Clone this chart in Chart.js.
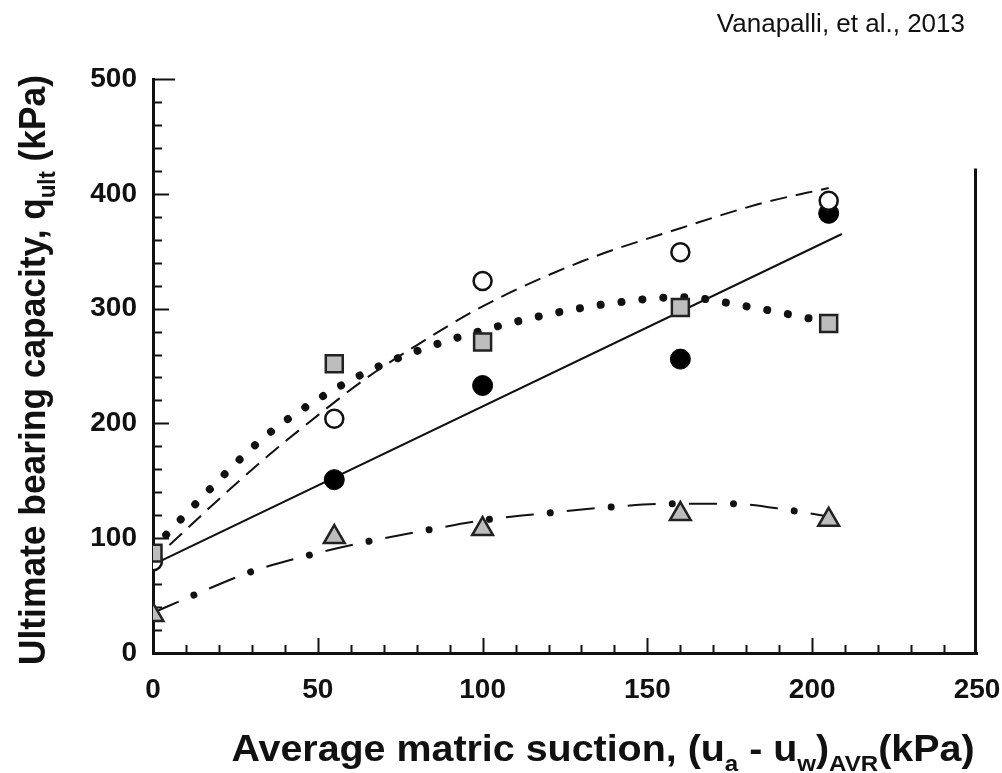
<!DOCTYPE html>
<html>
<head>
<meta charset="utf-8">
<script src="https://cdn.jsdelivr.net/npm/chart.js@4.4.0/dist/chart.umd.min.js"></script>
<style>
  html, body { margin: 0; padding: 0; background: #fff; }
  #wrap { width: 1002px; height: 773px; }
</style>
</head>
<body>
<div id="wrap"><canvas id="bearingChart" width="1002" height="773"></canvas></div>
<script>
// measured points, qult (kPa) against average matric suction (kPa)
const suction = [0, 55, 100, 160, 205];
const qOpenCircle = [80, 204, 324, 349, 394];
const suctionFilled = [55, 100, 160, 205];
const qFilledCircle = [151, 233, 256, 383];
const qSquare = [87, 252, 271, 301, 287];
const qTriangle = [33, 101, 108, 121, 116];

// fitted / predicted curves
const fitSolidX = [0, 209];
const fitSolidY = [77, 365];
const fitDashedX = [5, 20, 35, 50, 65, 80, 100, 130, 160, 185, 205];
const fitDashedY = [94, 134, 172, 207, 240, 268, 302, 341, 370, 392, 405];
const fitDottedX = [4, 15, 25, 35, 50, 65, 80, 100, 120, 140, 160, 180, 200];
const fitDottedY = [103, 136, 165, 191, 221, 245, 263, 281, 295, 305, 310, 302, 291];
const fitDashDotX = [0, 12, 30, 47, 65, 83, 101, 120, 138, 157, 176, 194, 205];
const fitDashDotY = [35, 50, 71, 85, 97, 107, 116, 122, 127, 130, 130, 124, 119];

const xTicks = [0, 50, 100, 150, 200, 250];
const yTicks = [0, 100, 200, 300, 400, 500];
const frameTop = 422;

const FONT = '"Liberation Sans", Arial, Helvetica, sans-serif';
Chart.defaults.font.family = FONT;
Chart.defaults.color = '#111';

function toPoints(xs, ys) {
    return xs.map((x, i) => ({ x: x, y: ys[i] }));
}

function drawRich(ctx, parts, size, targetWidth) {
    let total = 0;
    parts.forEach(p => {
        ctx.font = 'bold ' + (p.sub ? Math.round(size * 0.62) : size) + 'px ' + FONT;
        p.w = ctx.measureText(p.text).width;
        total += p.w;
    });
    ctx.scale(targetWidth / total, 1);
    let cx = -total / 2;
    parts.forEach(p => {
        ctx.font = 'bold ' + (p.sub ? Math.round(size * 0.62) : size) + 'px ' + FONT;
        ctx.fillText(p.text, cx, p.sub ? size * 0.28 : 0);
        cx += p.w;
    });
}

const axisDecor = {
    id: 'axisDecor',
    beforeDatasetsDraw(chart) {
        const { ctx, scales: { x, y } } = chart;
        const x0 = x.getPixelForValue(0);
        const y0 = y.getPixelForValue(0);
        ctx.save();
        ctx.strokeStyle = '#111';
        ctx.lineWidth = 2;
        ctx.beginPath();
        for (let v = 20; v <= 500; v += 20) {
            const py = Math.round(y.getPixelForValue(v)) + 0.5;
            let len = v % 100 === 0 ? 16 : 9;
            if (v === 500) len = 22;
            ctx.moveTo(x0, py);
            ctx.lineTo(x0 + len, py);
        }
        for (let v = 10; v < 250; v += 10) {
            const px = Math.round(x.getPixelForValue(v)) + 0.5;
            const len = v % 50 === 0 ? 15 : 8;
            ctx.moveTo(px, y0);
            ctx.lineTo(px, y0 - len);
        }
        ctx.stroke();
        // right frame line
        ctx.lineWidth = 3;
        const xr = x.getPixelForValue(250) - 1.5;
        ctx.beginPath();
        ctx.moveTo(xr, y.getPixelForValue(frameTop));
        ctx.lineTo(xr, y0);
        ctx.stroke();
        ctx.restore();
    },
    afterDraw(chart) {
        const { ctx } = chart;
        ctx.save();
        ctx.fillStyle = '#111';
        ctx.textBaseline = 'alphabetic';
        ctx.textAlign = 'left';

        // x axis title
        ctx.save();
        ctx.translate(603, 761);
        drawRich(ctx, [
            { text: 'Average matric suction, (u' },
            { text: 'a', sub: true },
            { text: ' - u' },
            { text: 'w', sub: true },
            { text: ')' },
            { text: 'AVR', sub: true },
            { text: '(kPa)' }
        ], 36, 743);
        ctx.restore();

        // y axis title
        ctx.save();
        ctx.translate(45, 370);
        ctx.rotate(-Math.PI / 2);
        drawRich(ctx, [
            { text: 'Ultimate bearing capacity, q' },
            { text: 'ult', sub: true },
            { text: ' (kPa)' }
        ], 37, 590);
        ctx.restore();

        // source note
        ctx.font = '26px ' + FONT;
        ctx.textAlign = 'right';
        ctx.fillText('Vanapalli, et al., 2013', 965, 32);
        ctx.restore();
    }
};

const lineBase = {
    showLine: true,
    pointRadius: 0,
    pointHoverRadius: 0,
    fill: false,
    borderColor: '#111',
    order: 2
};

const ctxChart = document.getElementById('bearingChart').getContext('2d');
const chart = new Chart(ctxChart, {
    type: 'scatter',
    data: {
        datasets: [
            {
                label: 'Squares',
                data: toPoints(suction, qSquare),
                pointStyle: 'rect',
                pointRadius: 12,
                backgroundColor: '#bdbdbd',
                borderColor: '#222',
                pointBorderWidth: 2.5,
                order: 0
            },
            {
                label: 'Open circles',
                data: toPoints(suction, qOpenCircle),
                pointStyle: 'circle',
                pointRadius: 9,
                backgroundColor: '#fff',
                borderColor: '#111',
                pointBorderWidth: 2.5,
                order: 1
            },
            {
                label: 'Filled circles',
                data: toPoints(suctionFilled, qFilledCircle),
                pointStyle: 'circle',
                pointRadius: 10,
                backgroundColor: '#000',
                borderColor: '#000',
                pointBorderWidth: 1,
                order: 1
            },
            {
                label: 'Triangles',
                data: toPoints(suction, qTriangle),
                pointStyle: 'triangle',
                pointRadius: 12,
                backgroundColor: '#bdbdbd',
                borderColor: '#222',
                pointBorderWidth: 2.5,
                order: 1
            },
            Object.assign({}, lineBase, {
                label: 'Fit solid',
                data: toPoints(fitSolidX, fitSolidY),
                borderWidth: 2
            }),
            Object.assign({}, lineBase, {
                label: 'Fit dashed',
                data: toPoints(fitDashedX, fitDashedY),
                borderWidth: 2,
                borderDash: [17, 9],
                cubicInterpolationMode: 'monotone'
            }),
            Object.assign({}, lineBase, {
                label: 'Fit dotted',
                data: toPoints(fitDottedX, fitDottedY),
                borderWidth: 8,
                borderDash: [0.01, 21],
                borderCapStyle: 'round',
                cubicInterpolationMode: 'monotone'
            }),
            Object.assign({}, lineBase, {
                label: 'Fit dash-dot (dashes)',
                data: toPoints(fitDashDotX, fitDashDotY),
                borderWidth: 2,
                borderDash: [28, 33.2],
                cubicInterpolationMode: 'monotone'
            }),
            Object.assign({}, lineBase, {
                label: 'Fit dash-dot (dots)',
                data: toPoints(fitDashDotX, fitDashDotY),
                borderWidth: 7,
                borderDash: [0.01, 61.19],
                borderDashOffset: 16.6,
                borderCapStyle: 'round',
                cubicInterpolationMode: 'monotone'
            })
        ]
    },
    options: {
        responsive: false,
        devicePixelRatio: 1,
        animation: false,
        layout: { padding: { top: 79, right: 0, left: 0, bottom: 0 } },
        plugins: {
            legend: { display: false },
            tooltip: { enabled: false },
            title: { display: false }
        },
        scales: {
            x: {
                type: 'linear',
                min: 0,
                max: 250,
                afterBuildTicks: s => { s.ticks = xTicks.map(v => ({ value: v })); },
                afterFit: s => { s.height = 120; s.paddingRight = 25; s.paddingLeft = 0; },
                ticks: {
                    font: { size: 28, weight: 'bold' },
                    color: '#111',
                    padding: 20,
                    maxRotation: 0
                },
                grid: { display: false, drawTicks: false },
                border: { display: true, color: '#111', width: 3 }
            },
            y: {
                type: 'linear',
                min: 0,
                max: 500,
                afterBuildTicks: s => { s.ticks = yTicks.map(v => ({ value: v })); },
                afterFit: s => { s.width = 153; },
                ticks: {
                    font: { size: 28, weight: 'bold' },
                    color: '#111',
                    padding: 16
                },
                grid: { display: false, drawTicks: false },
                border: { display: true, color: '#111', width: 3 }
            }
        }
    },
    plugins: [axisDecor]
});
</script>
</body>
</html>
